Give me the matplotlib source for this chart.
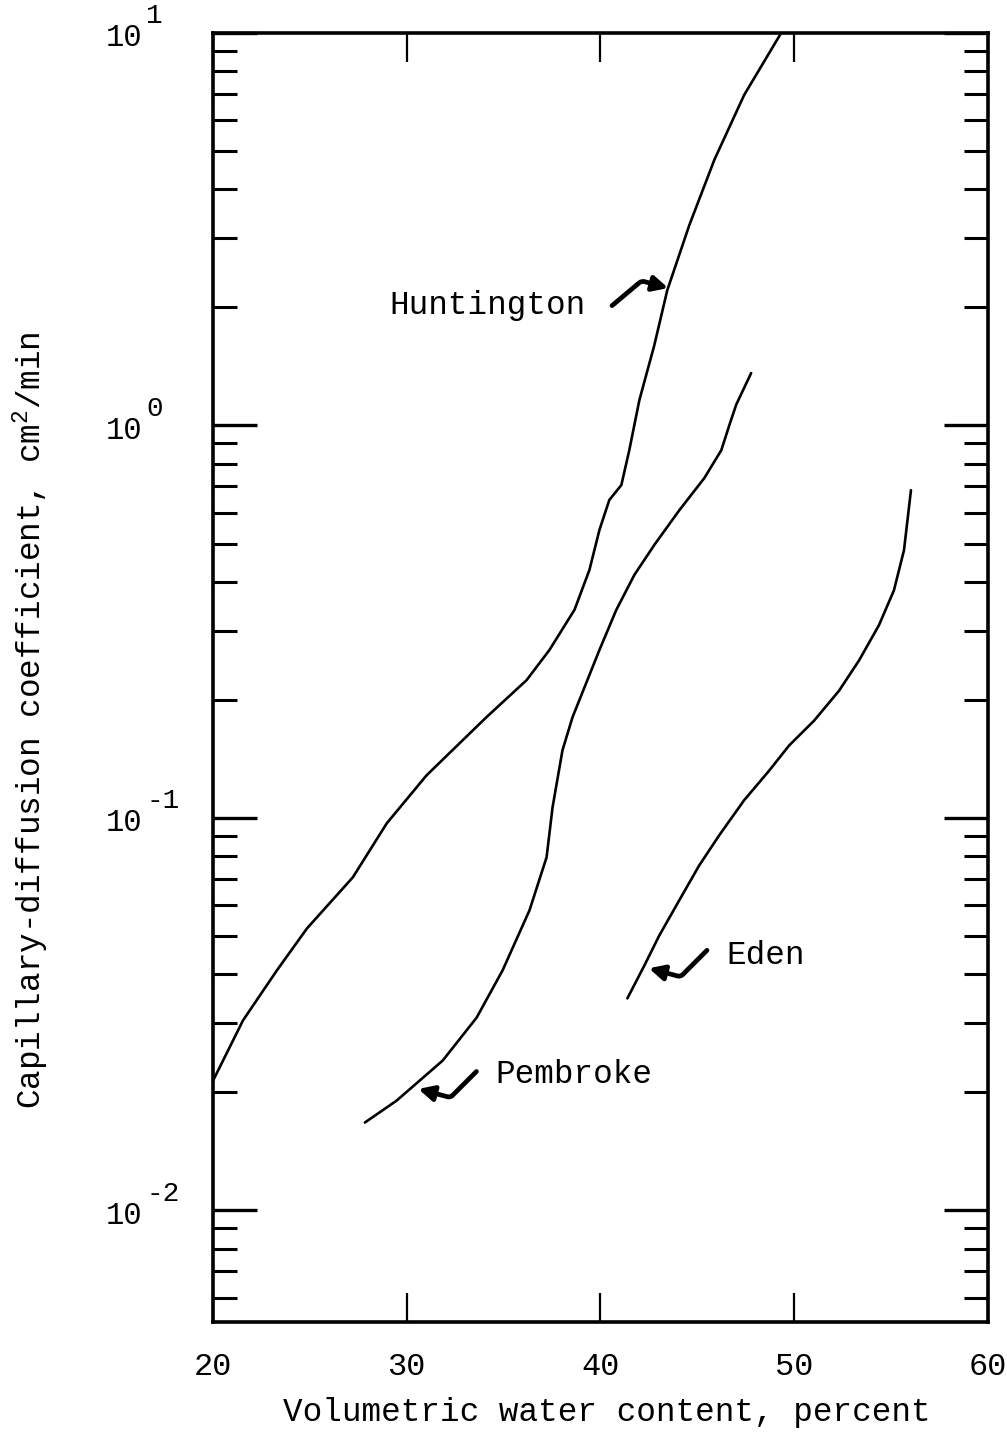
import numpy as np
import matplotlib
matplotlib.use("Agg")
import matplotlib.pyplot as plt
import matplotlib.transforms as mtransforms
from matplotlib.ticker import FixedLocator, LogLocator, NullFormatter

plt.rcParams['font.family'] = ['Liberation Mono', 'DejaVu Sans Mono']
plt.rcParams['mathtext.fontset'] = 'custom'
plt.rcParams['mathtext.rm'] = 'Liberation Mono'
plt.rcParams['mathtext.it'] = 'Liberation Mono'

# values (water content %, D in cm2/min)
huntington_x = [20.0, 21.55, 23.30, 24.85, 27.22, 28.97, 31.03, 34.12, 36.19, 37.37,
                38.66, 39.43, 39.95, 40.46, 41.08, 41.49, 42.01, 42.78, 43.45, 44.59,
                45.88, 47.42, 49.33]
huntington_d = [0.0214, 0.0305, 0.0409, 0.0523, 0.0706, 0.0969, 0.1285, 0.1807, 0.2245, 0.268,
                0.339, 0.428, 0.542, 0.646, 0.705, 0.865, 1.16, 1.60, 2.21, 3.24,
                4.75, 6.95, 10.0]

pembroke_x = [27.84, 29.48, 31.86, 33.61, 34.95, 36.34, 37.22, 37.53, 38.04, 38.56,
              39.95, 40.82, 41.75, 42.78, 44.07, 45.36, 46.24, 46.65, 47.01, 47.78]
pembroke_d = [0.01675, 0.01905, 0.0241, 0.0310, 0.0409, 0.0582, 0.0794, 0.1065, 0.1487, 0.1806,
              0.268, 0.339, 0.416, 0.496, 0.608, 0.734, 0.865, 1.0, 1.13, 1.36]

eden_x = [41.39, 42.27, 43.04, 44.07, 45.10, 46.13, 47.42, 48.71, 49.74, 51.03,
          52.32, 53.35, 54.38, 55.15, 55.67, 56.03]
eden_d = [0.0347, 0.0421, 0.0502, 0.0617, 0.0757, 0.0903, 0.111, 0.132, 0.153, 0.177,
          0.211, 0.252, 0.310, 0.380, 0.481, 0.684]

x_ticks = [20, 30, 40, 50, 60]
y_ticks = [1e-2, 1e-1, 1e0, 1e1]
y_exponents = ['-2', '-1', '0', '1']

# label text, text position, arrow tail, arrow head, connector angles
labels = [
    ("Huntington", (29.1, 2.02), (40.6, 2.02), (43.5, 2.24), 40, -15),
    ("Pembroke", (34.6, 0.0222), (33.6, 0.0226), (30.6, 0.0204), -135, 165),
    ("Eden", (46.5, 0.0445), (45.5, 0.0460), (42.5, 0.0414), -135, 165),
]

fig = plt.figure(figsize=(10.07, 14.33), dpi=100)
ax = fig.add_axes([0.2115, 0.0775, 0.7695, 0.8995])

for xs, ds in [(huntington_x, huntington_d), (pembroke_x, pembroke_d), (eden_x, eden_d)]:
    ax.plot(xs, ds, color='black', lw=1.9, solid_capstyle='round')

ax.set_yscale('log')
ax.set_xlim(20, 60)
ax.set_ylim(0.0052, 10)

for s in ax.spines.values():
    s.set_linewidth(2.6)

ax.xaxis.set_major_locator(FixedLocator(x_ticks))
ax.set_xticklabels([str(v) for v in x_ticks], fontsize=23)
ax.tick_params(axis='x', which='major', direction='in', length=21, width=1.6,
               top=True, bottom=True, pad=22)

ax.yaxis.set_major_locator(FixedLocator(y_ticks))
ax.set_yticklabels(['10'] * len(y_ticks), fontsize=22)
ax.yaxis.set_minor_locator(LogLocator(base=10, subs=np.arange(2, 10)))
ax.yaxis.set_minor_formatter(NullFormatter())
ax.tick_params(axis='y', which='major', direction='in', length=32, width=2.4,
               left=True, right=True, pad=77)
ax.tick_params(axis='y', which='minor', direction='in', length=17, width=2.2,
               left=True, right=True)
shift = mtransforms.ScaledTranslation(0, -2 / 100, fig.dpi_scale_trans)
for t in ax.get_yticklabels():
    t.set_horizontalalignment('left')
    t.set_transform(t.get_transform() + shift)

# superscript exponents, typewriter style (nearly full size, raised)
blend = mtransforms.blended_transform_factory(ax.transAxes, ax.transData)
for yv, e in zip(y_ticks, y_exponents):
    ax.annotate(e, xy=(-0.086, yv), xycoords=blend, xytext=(0, 12),
                textcoords='offset points', fontsize=20, ha='left', va='center',
                annotation_clip=False)

ax.set_xlabel('Volumetric water content, percent', fontsize=23.5)
ax.xaxis.set_label_coords(0.508, -0.058)
ax.set_ylabel('Capillary-diffusion coefficient, cm$^2$/min', fontsize=23.5)
ax.yaxis.set_label_coords(-0.209, 0.467)

for name, txt_pos, tail, head, ang_a, ang_b in labels:
    ax.text(txt_pos[0], txt_pos[1], name, fontsize=23.5, ha='left', va='center')
    ax.annotate('', xy=head, xytext=tail,
                arrowprops=dict(arrowstyle='-|>,head_width=0.45,head_length=0.9',
                                color='black', lw=3.4,
                                connectionstyle=f'angle,angleA={ang_a},angleB={ang_b},rad=3',
                                shrinkA=0, shrinkB=0))

fig.savefig('out.png', dpi=100)
